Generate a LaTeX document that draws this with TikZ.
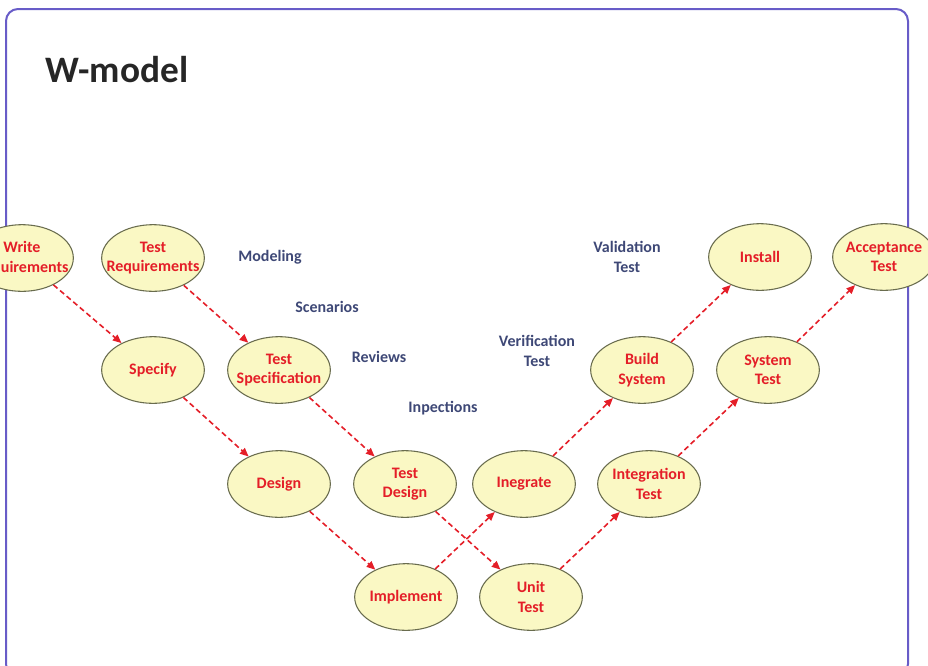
\documentclass[tikz,border=0pt]{standalone}
\usepackage{fontspec}
\setmainfont{Carlito}
\usepackage{xcolor}
\usetikzlibrary{arrows.meta,shapes.geometric}

\definecolor{stagefill}{RGB}{250,248,196}
\definecolor{stagetext}{RGB}{228,30,40}
\definecolor{stageline}{RGB}{105,108,78}
\definecolor{notetext}{RGB}{62,72,118}
\definecolor{framecol}{RGB}{104,92,200}

\begin{document}
\begin{tikzpicture}[x=0.75pt, y=-0.75pt,
		stage/.style={draw=stageline, fill=stagefill, ellipse, line width=0.8pt, minimum width=77pt, minimum height=50pt, inner xsep=-10pt, inner ysep=0pt, align=center, text=stagetext, font=\bfseries\fontsize{12}{14.5}\selectfont},
		note/.style={align=center, text=notetext, font=\bfseries\fontsize{12}{14.5}\selectfont},
		flow/.style={draw=stagetext, line width=1.2pt, dash pattern=on 4pt off 2.5pt, -{Triangle[length=6.5pt,width=5.5pt]}}]
		\useasboundingbox (0,0) rectangle (928,665);
		\draw[framecol, line width=1.5pt, rounded corners=9pt] (6,9) rectangle (908,676);
		\node[font=\bfseries\fontsize{28}{32}\selectfont, text=black!85] (title) at (117,70) {W-model};

		% left V: development
		\node[stage] (wreq) at (22,258) {Write\\Requirements};
		\node[stage] (spec) at (153,370) {Specify};
		\node[stage] (design) at (279,484) {Design};
		\node[stage] (impl) at (406,597) {Implement};
		\node[stage] (integ) at (524,484) {Inegrate};
		\node[stage] (build) at (642,370) {Build\\System};
		\node[stage] (install) at (760,257) {Install};

		% right V: testing
		\node[stage] (treq) at (153,258) {Test\\Requirements};
		\node[stage] (tspec) at (279,370) {Test\\Specification};
		\node[stage] (tdesign) at (405,484) {Test\\Design};
		\node[stage] (unit) at (531,597) {Unit\\Test};
		\node[stage] (itest) at (649,484) {Integration\\Test};
		\node[stage] (stest) at (768,370) {System\\Test};
		\node[stage] (accept) at (884,257) {Acceptance\\Test};

		\node[note] (modeling) at (270,257) {Modeling};
		\node[note] (scenarios) at (327,307) {Scenarios};
		\node[note] (reviews) at (379,357) {Reviews};
		\node[note] (inspect) at (443,408) {Inpections};
		\node[note] (verif) at (537,351) {Verification\\Test};
		\node[note] (valid) at (627,257) {Validation\\Test};

		\draw[flow] (wreq) -- (spec);
		\draw[flow] (spec) -- (design);
		\draw[flow] (design) -- (impl);
		\draw[flow] (impl) -- (integ);
		\draw[flow] (integ) -- (build);
		\draw[flow] (build) -- (install);
		\draw[flow] (treq) -- (tspec);
		\draw[flow] (tspec) -- (tdesign);
		\draw[flow] (tdesign) -- (unit);
		\draw[flow] (unit) -- (itest);
		\draw[flow] (itest) -- (stest);
		\draw[flow] (stest) -- (accept);
	\end{tikzpicture}
\end{document}
